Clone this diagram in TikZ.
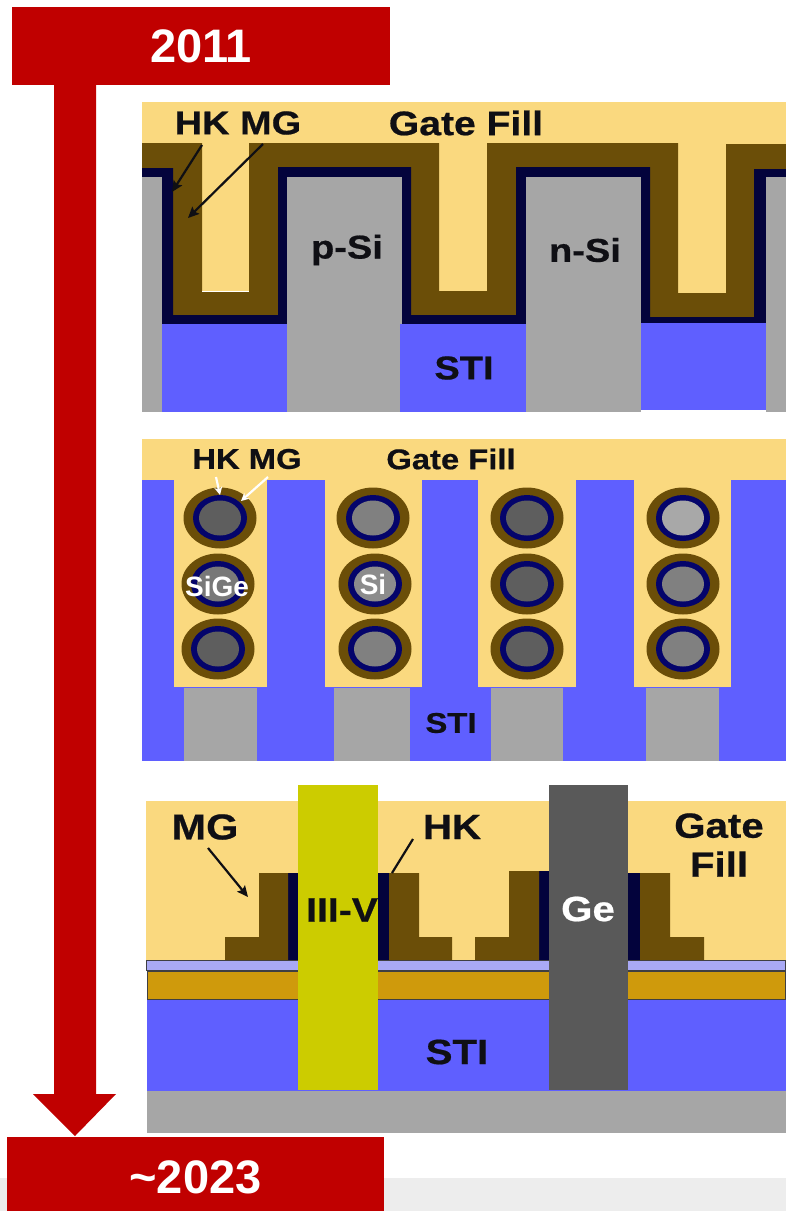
\documentclass[tikz,border=0pt]{standalone}
\usepackage{fontspec}
\setmainfont{Liberation Sans}
\newfontfamily\widefont[FakeStretch=1.15,FakeBold=0.6]{Liberation Sans}
\usetikzlibrary{arrows.meta}
\definecolor{banner}{RGB}{192,0,0}
\definecolor{fillgold}{RGB}{250,217,127}
\definecolor{metal}{RGB}{107,78,8}
\definecolor{oxide}{RGB}{3,3,60}
\definecolor{oxidering}{RGB}{4,4,107}
\definecolor{sti}{RGB}{95,95,255}
\definecolor{silicon}{RGB}{166,166,166}
\definecolor{buffer}{RGB}{169,169,245}
\definecolor{bond}{RGB}{207,154,12}
\definecolor{iiiv}{RGB}{204,204,0}
\definecolor{germanium}{RGB}{89,89,89}
\definecolor{ink}{RGB}{15,15,20}
\tikzset{
  >={Stealth[length=11pt,width=10pt,inset=2pt]},
  yearbox/.style={fill=banner,text=white,inner sep=0pt,font=\bfseries\fontsize{47}{50}\selectfont},
  lab/.style={text=ink,inner sep=0pt,font=\widefont\bfseries\fontsize{#1}{#1}\selectfont},
  lab/.default=33,
  whitelab/.style={text=white,inner sep=0pt,font=\bfseries\fontsize{28}{28}\selectfont},
  ptr/.style={->,draw=#1,line width=2.2pt},
  ptr/.default=ink,
  layer/.style={draw=ink!80,line width=0.7pt},
}
\begin{document}
\begin{tikzpicture}[x=1pt,y=-1pt]
  \useasboundingbox (0,0) rectangle (786,1211);
  \fill[white] (0,0) rectangle (786,1211);
  \fill[black!7] (0,1178) rectangle (786,1211);
  % time arrow
  \fill[banner] (54,85) -- (96,85) -- (96,1094) -- (116,1094) -- (75,1136) -- (33,1094) -- (54,1094) -- cycle;
  \node[yearbox,minimum width=378pt,minimum height=78pt] (y2011) at (201,46) {2011};
  \node[yearbox,minimum width=377pt,minimum height=80pt] (y2023) at (195.5,1177) {\textasciitilde 2023};
  % trench gate
  \fill[fillgold] (142,102) rectangle (786,300);
  \fill[metal] (142,143) -- (202,143) -- (202,291) -- (249,291) -- (249,143) -- (439,143) -- (439,291) -- (487,291)
    -- (487,143) -- (678,143) -- (678,293) -- (726,293) -- (726,144) -- (786,144) -- (786,330) -- (142,330) -- cycle;
  \fill[white] (202,290.5) rectangle (249,291.5);
  \fill[oxide] (142,168) -- (173,168) -- (173,315) -- (278,315) -- (278,167) -- (411,167) -- (411,315) -- (516,315)
    -- (516,167) -- (650,167) -- (650,317) -- (754,317) -- (754,169) -- (786,169) -- (786,330) -- (142,330) -- cycle;
  \foreach \xa/\xb in {142/162,287/402,526/641,766/786}
    \fill[silicon] (\xa,177) rectangle (\xb,412);
  \foreach \xa/\xb/\ya/\yb in {162/287/324/412,400/526/324/412,641/766/323/410}
    \fill[sti] (\xa,\ya) rectangle (\xb,\yb);
  \node[lab] (hkmg1) at (238,123) {HK MG};
  \node[lab=34] (fill1) at (466,123) {Gate Fill};
  \node[lab] (psi) at (347,250) {p-Si};
  \node[lab] (nsi) at (585,250) {n-Si};
  \node[lab] (sti1) at (464,368) {STI};
  \coordinate (hk1) at (172,192);
  \coordinate (mg1) at (188,218);
  \draw[ptr] (202,145) -- (hk1);
  \draw[ptr] (263,144) -- (mg1);
  % nanowires
  \fill[fillgold] (142,439) rectangle (786,690);
  \fill[sti] (142,687) rectangle (786,761);
  \foreach \xa/\xb in {142/174,267/325,422/478,576/634,731/786}
    \fill[sti] (\xa,480) rectangle (\xb,690);
  \foreach \xa/\xb in {184/257,334/410,491/563,646/719}
    \fill[silicon] (\xa,688) rectangle (\xb,761);
  \foreach \x/\y/\c in {220/518/37,218/584/47,218/649/37,373/518/50,375/584/55,375/649/50,
      527/518/37,527/584/37,527/649/37,683/518/66,683/584/50,683/649/50}{
    \fill[metal] (\x,\y) ellipse [x radius=36.5pt,y radius=30.5pt];
    \fill[oxidering] (\x,\y) ellipse [x radius=27pt,y radius=23pt];
    \fill[white!\c!black] (\x,\y) ellipse [x radius=21pt,y radius=17.5pt];
  }
  \node[lab=28.5] (hkmg2) at (247,459) {HK MG};
  \node[lab=28.5] (fill2) at (451,459) {Gate Fill};
  \node[whitelab] (sige) at (217,586) {SiGe};
  \node[whitelab] (si) at (373,584) {Si};
  \node[lab=28.5] (sti2) at (451,723) {STI};
  \coordinate (hk2) at (220,495);
  \coordinate (mg2) at (241,501);
  \draw[ptr=white,>={Stealth[length=8pt,width=8pt]}] (216,477) -- (hk2);
  \draw[ptr=white,>={Stealth[length=8pt,width=8pt]}] (268,477) -- (mg2);
  % planar channels
  \fill[fillgold] (146,801) rectangle (786,960);
  \fill[sti] (147,999) rectangle (786,1091);
  \fill[silicon] (147,1091) rectangle (786,1133);
  \fill[buffer,layer] (146.5,960.5) rectangle (785.5,970);
  \fill[bond,layer] (147.5,971) rectangle (785.5,999);
  \fill[iiiv] (298,785) rectangle (378,1090);
  \fill[germanium] (549,785) rectangle (628,1090);
  \foreach \xa/\xb/\t in {288/298/873,378/389/873,539/549/871,628/640/873}
    \fill[oxide] (\xa,\t) rectangle (\xb,960);
  \fill[metal] (225,960) -- (225,937) -- (259,937) -- (259,873) -- (288,873) -- (288,960) -- cycle;
  \fill[metal] (389,960) -- (389,873) -- (419,873) -- (419,937) -- (452,937) -- (452,960) -- cycle;
  \fill[metal] (475,960) -- (475,937) -- (509,937) -- (509,871) -- (539,871) -- (539,960) -- cycle;
  \fill[metal] (640,960) -- (640,873) -- (670,873) -- (670,937) -- (704,937) -- (704,960) -- cycle;
  \node[lab=36] (mg3) at (205,827) {MG};
  \node[lab=35] (hk3) at (452,827) {HK};
  \node[lab=35,align=center] (fill3) at (719,845) {Gate\\[4pt]Fill};
  \node[lab=34] (iii) at (342,910) {III-V};
  \node[lab=35,text=white] (ge) at (588,909) {Ge};
  \node[lab=35] (sti3) at (457,1052) {STI};
  \coordinate (mgend) at (248,897);
  \coordinate (hkend) at (392,873);
  \draw[ptr] (208,848) -- (mgend);
  \draw[ink,line width=2.2pt] (413,839) -- (hkend);
\end{tikzpicture}
\end{document}
